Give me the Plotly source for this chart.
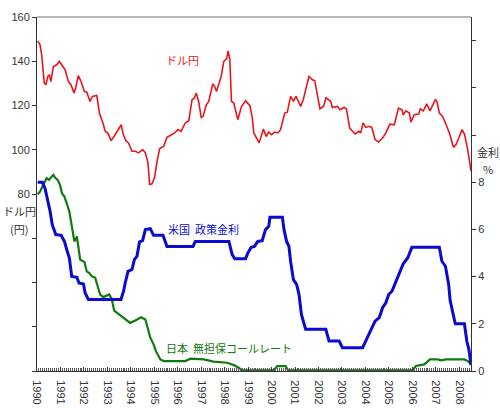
import plotly.graph_objects as go

# ドル円 (円), 左軸
usdjpy_x = [1990.03, 1990.13, 1990.20, 1990.31, 1990.38, 1990.46, 1990.53, 1990.59, 1990.70, 1990.84,
            1990.95, 1991.08, 1991.20, 1991.34, 1991.45, 1991.58, 1991.65, 1991.76, 1991.88, 1992.02,
            1992.12, 1992.26, 1992.36, 1992.55, 1992.66, 1992.81, 1992.91, 1993.02, 1993.16, 1993.33,
            1993.47, 1993.59, 1993.68, 1993.79, 1993.90, 1994.05, 1994.19, 1994.33, 1994.50, 1994.62,
            1994.73, 1994.80, 1994.90, 1995.01, 1995.12, 1995.23, 1995.40, 1995.54, 1995.73, 1995.87,
            1996.01, 1996.14, 1996.32, 1996.47, 1996.61, 1996.71, 1996.79, 1996.89, 1997.00, 1997.08,
            1997.22, 1997.32, 1997.49, 1997.56, 1997.65, 1997.75, 1997.85, 1997.96, 1998.08, 1998.15,
            1998.22, 1998.29, 1998.39, 1998.56, 1998.72, 1998.89, 1999.07, 1999.18, 1999.24, 1999.36,
            1999.47, 1999.65, 1999.77, 1999.88, 2000.00, 2000.13, 2000.27, 2000.38, 2000.56, 2000.67,
            2000.81, 2000.93, 2001.04, 2001.24, 2001.35, 2001.59, 2001.74, 2001.84, 2002.06, 2002.21,
            2002.32, 2002.52, 2002.59, 2002.81, 2002.91, 2003.09, 2003.19, 2003.33, 2003.56, 2003.73,
            2003.80, 2003.90, 2004.02, 2004.16, 2004.27, 2004.41, 2004.56, 2004.73, 2004.87, 2005.04,
            2005.23, 2005.41, 2005.56, 2005.61, 2005.73, 2005.87, 2005.94, 2006.08, 2006.27, 2006.34,
            2006.47, 2006.61, 2006.75, 2006.98, 2007.05, 2007.15, 2007.29, 2007.41, 2007.58, 2007.75,
            2007.86, 2007.98, 2008.12, 2008.22, 2008.36, 2008.50]
usdjpy = [149.2, 147.4, 142.9, 130.1, 129.4, 133.1, 133.9, 130.8, 137.6, 138.4,
          139.9, 137.6, 136.1, 130.8, 129.4, 125.6, 127.9, 133.5, 130.8, 126.3,
          126.1, 121.8, 124.1, 124.5, 116.6, 112.1, 108.3, 107.6, 104.1, 106.8,
          109.1, 111.3, 106.8, 104.1, 103.1, 99.3, 99.3, 98.6, 100.1, 98.6,
          94.1, 84.3, 84.6, 87.3, 94.8, 100.5, 101.5, 105.6, 106.8, 107.6,
          109.1, 108.3, 112.1, 113.1, 122.6, 123.4, 125.6, 121.8, 114.6, 115.1,
          120.3, 121.8, 129.7, 129.0, 126.3, 130.1, 133.1, 139.9, 141.1, 144.7,
          140.6, 121.8, 121.1, 113.6, 119.6, 122.1, 120.0, 114.3, 107.6, 105.3,
          103.1, 109.4, 106.0, 108.0, 106.8, 108.0, 107.6, 109.1, 116.6, 117.0,
          124.1, 122.1, 124.1, 119.6, 122.6, 133.1, 131.6, 131.2, 118.5, 119.6,
          123.6, 121.8, 119.1, 119.6, 118.1, 119.1, 118.5, 109.8, 107.1, 108.3,
          107.6, 112.1, 110.1, 110.6, 110.1, 104.6, 103.5, 105.3, 107.6, 111.6,
          111.3, 118.8, 118.1, 115.8, 117.6, 116.6, 112.5, 115.8, 116.1, 118.5,
          117.6, 120.7, 117.6, 122.6, 121.8, 116.6, 115.1, 112.1, 107.6, 101.1,
          102.3, 105.3, 109.1, 107.1, 100.1, 90.3]

# 米国 政策金利 (%), 右軸
us_x = [1990.03, 1990.23, 1990.34, 1990.46, 1990.56, 1990.65, 1990.80, 1991.03, 1991.17, 1991.27,
        1991.38, 1991.48, 1991.70, 1991.79, 1991.98, 1992.05, 1992.19, 1993.58, 1993.69, 1993.76,
        1993.88, 1994.05, 1994.15, 1994.26, 1994.37, 1994.50, 1994.62, 1994.83, 1994.97, 1995.37,
        1995.54, 1996.65, 1996.75, 1998.18, 1998.32, 1998.43, 1998.89, 1998.99, 1999.13, 1999.27,
        1999.41, 1999.60, 1999.74, 1999.88, 1999.93, 2000.46, 2000.53, 2000.64, 2000.74, 2000.81,
        2000.93, 2001.07, 2001.17, 2001.27, 2001.45, 2002.31, 2002.45, 2002.88, 2003.02, 2003.88,
        2004.02, 2004.23, 2004.41, 2004.59, 2004.73, 2004.87, 2004.99, 2005.13, 2005.27, 2005.44,
        2005.61, 2005.80, 2005.98, 2007.15, 2007.26, 2007.41, 2007.55, 2007.61, 2007.72, 2007.83,
        2008.22, 2008.32, 2008.41, 2008.50]
us_rate = [8.00, 8.00, 7.75, 7.25, 6.76, 6.20, 5.78, 5.75, 5.49, 5.14,
           4.79, 4.01, 3.97, 3.73, 3.69, 3.31, 3.03, 3.03, 3.38, 3.73,
           4.22, 4.30, 4.72, 4.86, 5.47, 5.52, 5.99, 6.03, 5.75, 5.75,
           5.28, 5.28, 5.49, 5.49, 4.93, 4.76, 4.76, 5.00, 5.24, 5.28,
           5.49, 5.52, 5.99, 6.13, 6.51, 6.51, 5.99, 5.49, 5.28, 4.65,
           3.87, 3.66, 3.24, 2.40, 1.77, 1.77, 1.27, 1.27, 0.99, 0.99,
           1.27, 1.76, 2.11, 2.26, 2.68, 2.89, 3.24, 3.38, 3.73, 4.16,
           4.54, 4.79, 5.24, 5.24, 4.65, 4.44, 3.66, 2.99, 2.53, 2.00,
           2.00, 1.27, 0.92, 0.25]

# 日本 無担保コールレート (%), 右軸
jp_x = [1990.03, 1990.13, 1990.23, 1990.41, 1990.51, 1990.63, 1990.70, 1990.77, 1990.88, 1990.98,
        1991.06, 1991.17, 1991.27, 1991.38, 1991.45, 1991.55, 1991.59, 1991.70, 1991.79, 1991.84,
        1992.02, 1992.12, 1992.22, 1992.34, 1992.48, 1992.59, 1992.69, 1992.83, 1992.98, 1993.08,
        1993.19, 1993.29, 1993.47, 1993.65, 1993.76, 1993.97, 1994.19, 1994.44, 1994.62, 1994.73,
        1994.83, 1994.97, 1995.07, 1995.26, 1995.40, 1996.32, 1996.54, 1997.11, 1997.53, 1998.11,
        1998.39, 1998.60, 1998.75, 2000.10, 2000.24, 2000.60, 2000.70, 2006.01, 2006.15, 2006.51,
        2006.75, 2007.08, 2007.22, 2007.44, 2008.22, 2008.36, 2008.50]
jp_rate = [7.49, 7.60, 7.82, 8.17, 8.10, 8.24, 8.31, 8.20, 8.10, 7.89,
           7.54, 7.39, 7.04, 6.76, 6.34, 5.70, 5.49, 5.70, 5.07, 4.72,
           4.62, 4.22, 4.16, 4.01, 3.95, 3.52, 3.24, 3.13, 3.21, 3.24,
           3.03, 2.56, 2.42, 2.28, 2.18, 2.04, 2.14, 2.28, 2.18, 1.83,
           1.41, 1.13, 0.84, 0.49, 0.42, 0.42, 0.52, 0.49, 0.40, 0.35,
           0.25, 0.14, 0.03, 0.03, 0.21, 0.21, 0.03, 0.03, 0.21, 0.28,
           0.49, 0.49, 0.45, 0.49, 0.49, 0.42, 0.28]

years = list(range(1990, 2009))
yen_ticks = list(range(0, 161, 20))
yen_labels = ['', '', '', '', '80', '100', '120', '140', '160']
rate_ticks = list(range(0, 15, 2))
rate_labels = ['0', '2', '4', '6', '8', '', '', '']

JP_FONT = 'Noto Sans CJK JP'
TICK_FONT = dict(family='Liberation Sans, Arial', size=11, color='#333333')
LABEL_FONT = dict(family=JP_FONT, size=11, color='#333333')

fig = go.Figure()

fig.add_trace(go.Scatter(x=usdjpy_x, y=usdjpy, mode='lines', name='ドル円',
                         line=dict(color='#e8161c', width=1.6)))
fig.add_trace(go.Scatter(x=jp_x, y=jp_rate, mode='lines', name='日本 無担保コールレート', yaxis='y2',
                         line=dict(color='#107a10', width=2.2)))
fig.add_trace(go.Scatter(x=us_x, y=us_rate, mode='lines', name='米国 政策金利', yaxis='y2',
                         line=dict(color='#0a0ad0', width=3)))

fig.update_layout(
    width=500, height=408,
    margin=dict(l=37, r=29, t=17, b=37, autoexpand=False),
    paper_bgcolor='white', plot_bgcolor='white',
    showlegend=False,
    xaxis=dict(
        range=[1990, 2008.5], tickvals=years, ticktext=[str(y) for y in years], automargin=False,
        tickangle=90, tickfont=TICK_FONT, ticks='inside', ticklen=4, tickcolor='#333333',
        ticklabelstandoff=6,
        showgrid=False, zeroline=False, showline=True, linecolor='#333333', linewidth=1,
        minor=dict(dtick=1 / 12, tick0=1990, ticks='inside', ticklen=3, tickcolor='#555555', showgrid=False),
    ),
    yaxis=dict(
        range=[0, 160], tickvals=yen_ticks, ticktext=yen_labels, tickfont=TICK_FONT, automargin=False,
        ticks='outside', ticklen=4, tickcolor='#333333',
        showgrid=False, zeroline=False, showline=True, linecolor='#333333', linewidth=1,
    ),
    yaxis2=dict(
        range=[0, 15], overlaying='y', side='right', tickvals=rate_ticks, ticktext=rate_labels,
        tickfont=TICK_FONT, ticks='outside', ticklen=4, tickcolor='#333333', automargin=False,
        showgrid=False, zeroline=False, showline=True, linecolor='#333333', linewidth=1,
    ),
)

# 上端の灰色の枠線
fig.add_shape(type='line', xref='paper', yref='paper', x0=0, x1=1, y0=1, y1=1,
              line=dict(color='#a0a0a0', width=1.5))

fig.add_annotation(x=1996.2, y=140.5, text='ドル円', showarrow=False,
                   font=dict(family=JP_FONT, size=11, color='#e8161c'))
fig.add_annotation(x=1997.1, y=6.0, yref='y2', text='米国&nbsp;&nbsp;政策金利', showarrow=False,
                   font=dict(family=JP_FONT, size=11, color='#0a0ad0'))
fig.add_annotation(x=1998.2, y=0.96, yref='y2', text='日本&nbsp;&nbsp;無担保コールレート', showarrow=False,
                   font=dict(family=JP_FONT, size=11, color='#107a10'))

# 軸の見出し
fig.add_annotation(xref='paper', yref='paper', x=-0.041, y=0.451, xanchor='center',
                   text='ドル円', showarrow=False, font=LABEL_FONT)
fig.add_annotation(xref='paper', yref='paper', x=-0.041, y=0.402, xanchor='center',
                   text='(円)', showarrow=False, font=LABEL_FONT)
fig.add_annotation(xref='paper', yref='paper', x=1.04, y=0.619, xanchor='center',
                   text='金利', showarrow=False, font=LABEL_FONT)
fig.add_annotation(xref='paper', yref='paper', x=1.04, y=0.570, xanchor='center',
                   text='%', showarrow=False, font=LABEL_FONT)

# ページの余白をなくして図を左上に合わせる
fig.write_html("out.html", config={'displayModeBar': False},
               post_script="document.body.style.margin='0';")
